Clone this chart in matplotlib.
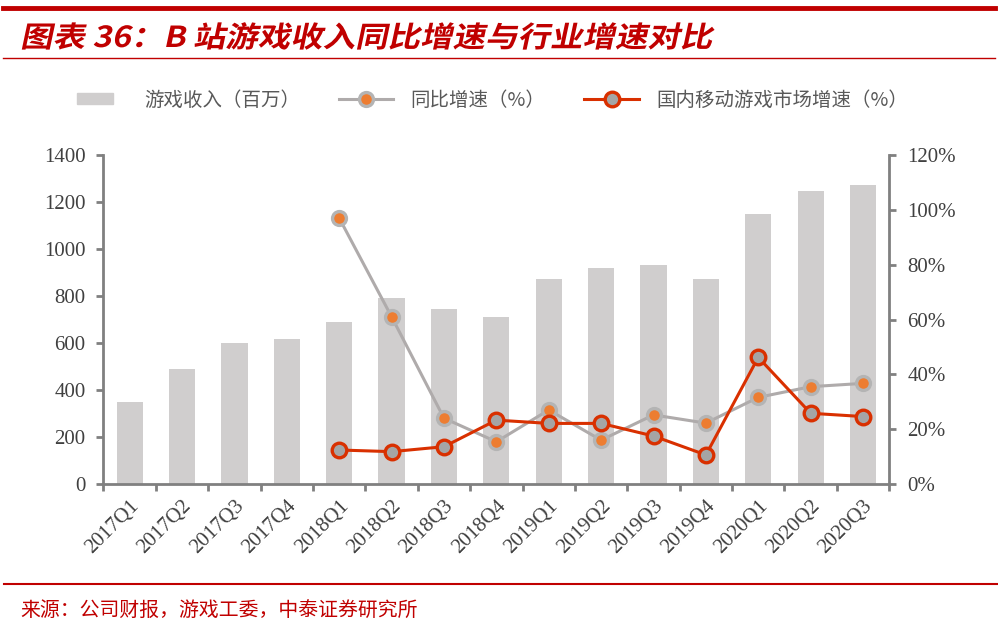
import numpy as np
import matplotlib.pyplot as plt
from matplotlib.textpath import TextPath
from matplotlib.patches import PathPatch, Rectangle
from matplotlib.font_manager import FontProperties
from matplotlib.transforms import Affine2D
from matplotlib.ticker import FuncFormatter
from matplotlib.legend_handler import HandlerPatch

plt.rcParams['font.family'] = ['Noto Sans CJK SC', 'DejaVu Sans']

quarters = ['2017Q1', '2017Q2', '2017Q3', '2017Q4', '2018Q1', '2018Q2', '2018Q3', '2018Q4',
            '2019Q1', '2019Q2', '2019Q3', '2019Q4', '2020Q1', '2020Q2', '2020Q3']
revenue = [350, 490, 598, 617, 688, 790, 744, 711, 872, 918, 932, 871, 1149, 1247, 1272]
yoy = [np.nan] * 4 + [97, 61, 24, 15.4, 27, 16, 25.2, 22.2, 31.6, 35.5, 36.7]
market = [np.nan] * 4 + [12.4, 11.8, 13.6, 23.3, 22.1, 22.1, 17.5, 10.6, 46.2, 25.8, 24.6]

RED = '#C00000'
AXC = '#808080'
TXT = '#404040'
BAR = '#D0CECE'

fig = plt.figure(figsize=(9.98, 6.34), dpi=100)
ax = fig.add_axes([0.1037, 0.2366, 0.891 - 0.1037, 0.7555 - 0.2366])
ax2 = ax.twinx()

x = np.arange(len(quarters))
ax.bar(x, revenue, width=0.5, color=BAR, zorder=1)
l1, = ax2.plot(x, yoy, color='#AFABAB', lw=2.2, marker='o', ms=10, mfc='#ED7D31',
               mec='#B4B4B4', mew=2.4, zorder=3, label='同比增速（%）')
l2, = ax2.plot(x, market, color='#D93000', lw=2.2, marker='o', ms=10.5, mfc='#A5A5A5',
               mec='#D93000', mew=2.4, zorder=4, label='国内移动游戏市场增速（%）')

ax.set_xlim(-0.5, len(quarters) - 0.5)
ax.set_ylim(0, 1400)
ax.set_yticks(np.arange(0, 1401, 200))
ax2.set_ylim(0, 120)
ax2.set_yticks(np.arange(0, 121, 20))
ax2.yaxis.set_major_formatter(FuncFormatter(lambda v, p: f'{v:.0f}%'))

ax.set_xticks(np.append(x - 0.5, len(x) - 0.5), minor=False)
ax.set_xticks(x, minor=True)
ax.set_xticklabels([''] * (len(x) + 1))
ax.set_xticklabels(quarters, minor=True, rotation=45, ha='right', va='top',
                   rotation_mode='anchor', family='Liberation Serif', fontsize=15, color=TXT)
ax.tick_params(axis='x', which='minor', length=0, pad=9)
ax.tick_params(axis='x', which='major', length=5, width=2, color=AXC, direction='out')

for a in (ax, ax2):
    for s in a.spines.values():
        s.set_visible(False)
ax.spines['left'].set_visible(True)
ax.spines['bottom'].set_visible(True)
ax2.spines['right'].set_visible(True)
for s in (ax.spines['left'], ax.spines['bottom'], ax2.spines['right']):
    s.set_color(AXC)
    s.set_linewidth(2)

ax.tick_params(axis='y', length=5, width=2, color=AXC, labelsize=15, labelcolor=TXT, pad=8)
ax2.tick_params(axis='y', length=5, width=2, color=AXC, labelsize=15, labelcolor=TXT, pad=8)
for lab in ax.get_yticklabels() + ax2.get_yticklabels():
    lab.set_family('Liberation Serif')


# narrower gray box in the legend, sitting at the left of its slot
def short_box(legend, orig_handle, xdescent, ydescent, width, height, fontsize):
    return Rectangle((-xdescent + 4, -ydescent), width * 0.66, height)


box = Rectangle((0, 0), 1, 1, color=BAR, label='游戏收入（百万）')
fig.legend(handles=[box, l1, l2], loc='center', bbox_to_anchor=(0.491, 1 - 100 / 634),
           ncol=3, frameon=False, fontsize=14, labelcolor='#595959',
           handlelength=2.8, handleheight=0.55, columnspacing=2.0, handletextpad=0.9,
           handler_map={box: HandlerPatch(patch_func=short_box)})

# decorations: red rules, title, source
fig.add_artist(plt.Line2D([0.003, 0.997], [1 - 8 / 634] * 2, color=RED, lw=3.5))
fig.add_artist(plt.Line2D([0.003, 0.997], [1 - 57.5 / 634] * 2, color=RED, lw=1))
fig.add_artist(plt.Line2D([0.004, 1.0], [1 - 584 / 634] * 2, color=RED, lw=1.5))

fp = FontProperties(family='Noto Sans CJK SC', weight='bold')
tp = TextPath((0, 0), '图表 36：B 站游戏收入同比增速与行业增速对比', size=29, prop=fp)
tr = Affine2D().scale(1.12, 1).skew_deg(12, 0).translate(20, 634 - 47)
fig.add_artist(PathPatch(tp, transform=tr, color=RED, lw=0))

fig.text(20 / 998, 1 - 610 / 634, '来源：公司财报，游戏工委，中泰证券研究所', color=RED,
         fontsize=14.3, va='center', ha='left')

fig.savefig('out.png', dpi=100)
